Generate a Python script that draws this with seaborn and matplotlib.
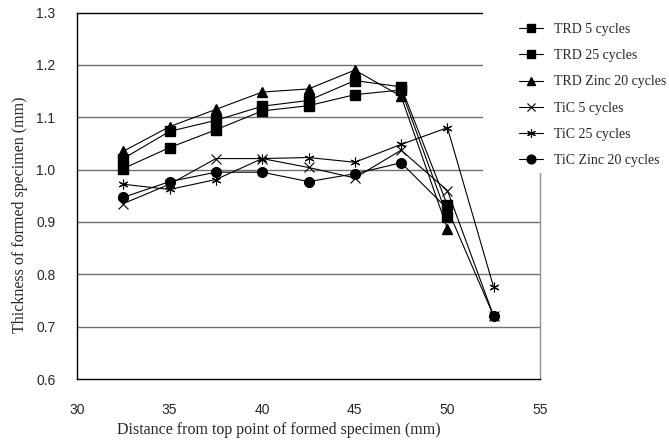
import numpy as np
import matplotlib
matplotlib.use("Agg")
import matplotlib.pyplot as plt
import seaborn as sns
from matplotlib.patches import Rectangle

# Data
distance = [32.5, 35, 37.5, 40, 42.5, 45, 47.5, 50, 52.5]

trd_5 = [1.021, 1.073, 1.094, 1.121, 1.132, 1.170, 1.158, 0.932]
trd_25 = [1.002, 1.042, 1.076, 1.112, 1.122, 1.143, 1.152, 0.910]
trd_zinc = [1.035, 1.082, 1.115, 1.148, 1.154, 1.190, 1.140, 0.887]
tic_5 = [0.935, 0.972, 1.021, 1.021, 1.004, 0.984, 1.037, 0.960, 0.720]
tic_25 = [0.972, 0.962, 0.981, 1.021, 1.023, 1.014, 1.048, 1.080, 0.775]
tic_zinc = [0.947, 0.977, 0.995, 0.995, 0.977, 0.992, 1.013, 0.925, 0.720]

labels = ["TRD 5 cycles", "TRD 25 cycles", "TRD Zinc 20 cycles",
          "TiC 5 cycles", "TiC 25 cycles", "TiC Zinc 20 cycles"]
series = [trd_5, trd_25, trd_zinc, tic_5, tic_25, tic_zinc]
markers = ["s", "s", "^", "x", (6, 2, 0), "o"]
sizes = [6.5, 6.5, 6.5, 7, 7, 7]
edge_w = [1.0, 1.0, 1.0, 0.8, 0.8, 1.0]

x_ticks = [30, 35, 40, 45, 50, 55]
y_ticks = [0.6, 0.7, 0.8, 0.9, 1.0, 1.1, 1.2, 1.3]

sns.set_style("white")
plt.rcParams["font.family"] = ["Liberation Sans", "DejaVu Sans"]

fig = plt.figure(figsize=(6.69, 4.48), dpi=100)
ax = fig.add_axes([77 / 669, 1 - 379 / 448, 463 / 669, 366.5 / 448])

for lab, vals, mk, ms, ew in zip(labels, series, markers, sizes, edge_w):
    sns.lineplot(x=distance[:len(vals)], y=vals, ax=ax, color="black",
                 marker=mk, markersize=ms, markeredgecolor="black",
                 markerfacecolor="black", markeredgewidth=ew,
                 linewidth=0.8, label=lab, legend=False)

ax.set_xlim(30, 55)
ax.set_ylim(0.6, 1.3)
ax.set_xticks(x_ticks)
ax.set_yticks(y_ticks)
ax.set_yticklabels([f"{v:.1f}" for v in y_ticks])

# horizontal grid lines
for v in y_ticks[1:-1]:
    ax.axhline(v, color="#707070", linewidth=1.0, zorder=1)

for side in ["left", "bottom", "top"]:
    ax.spines[side].set_color("black")
    ax.spines[side].set_linewidth(1.0)
ax.spines["right"].set_color("#909090")
ax.spines["right"].set_linewidth(1.0)

ax.tick_params(axis="x", direction="in", length=5, width=1, color="#808080",
               pad=17, labelsize=10)
ax.tick_params(axis="y", direction="in", length=4, width=1, color="#808080",
               pad=15.5, labelsize=10)

ax.set_xlabel("Distance from top point of formed specimen (mm)",
              family="Liberation Serif", fontsize=11.5)
ax.xaxis.set_label_coords(0.435, -0.117)
ax.set_ylabel("Thickness of formed specimen (mm)",
              family="Liberation Serif", fontsize=11.5)
ax.yaxis.set_label_coords(-0.105, 0.448)

# white block behind the legend, covering the upper right of the frame
ax.add_patch(Rectangle((483 / 669, 1 - 173 / 448), 1, 1, transform=fig.transFigure,
                       facecolor="white", edgecolor="none", clip_on=False, zorder=4))

handles, labs = ax.get_legend_handles_labels()
leg = ax.legend(handles, labs, loc="upper left",
                bbox_to_anchor=(519 / 669, 1 - 23 / 448),
                bbox_transform=fig.transFigure, frameon=False,
                prop={"family": "Liberation Serif", "size": 10},
                handlelength=1.7, handletextpad=0.85, labelspacing=0.95,
                borderpad=0, borderaxespad=0, markerscale=0.9)
leg.set_zorder(5)

fig.savefig("out.png", dpi=100)
